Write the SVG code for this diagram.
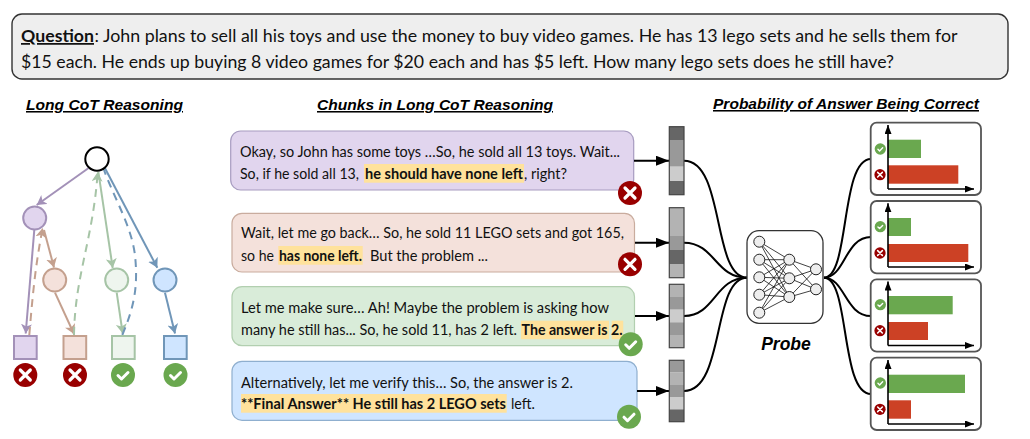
<svg xmlns="http://www.w3.org/2000/svg" width="1030" height="439" viewBox="0 0 1030 439">
<style>
text{font-family:"Lato","Liberation Sans",sans-serif;fill:#111}
.q{font-size:17.5px}
.c{font-size:14.6px}
.b{font-weight:700}
.h{font-family:"Liberation Sans",Arial,sans-serif;font-weight:700;font-style:italic;font-size:15.5px;text-decoration:underline;fill:#000}
.hl{fill:#ffe29c}
.conn{fill:none;stroke:#000;stroke-width:2}
.t{fill:none;stroke-width:2}
.d{stroke-dasharray:8 6}
.panel{fill:#fff;stroke:#555;stroke-width:1.8}
.ax{stroke:#000;stroke-width:1.6;fill:none}
.gb{fill:#6aa84f}
.rb{fill:#cc4125}
.n{fill:#eee;stroke:#222;stroke-width:1}
.nn{stroke:#111;stroke-width:.8;fill:none}
.frame{fill:none;stroke:#444;stroke-width:1.2}
</style>
<defs>
<marker id="ah" markerUnits="userSpaceOnUse" markerWidth="14" markerHeight="12" refX="13" refY="5" orient="auto"><path d="M0 0L13 5L0 10z" fill="#000"/></marker>
<marker id="ax" markerUnits="userSpaceOnUse" markerWidth="10" markerHeight="8" refX="9" refY="3.500" orient="auto"><path d="M0 0L9 3.500L0 7z" fill="#000"/></marker>
<marker id="mp" markerUnits="userSpaceOnUse" markerWidth="11" markerHeight="12" refX="9.500" refY="5.500" orient="auto"><path d="M0 0L9.500 5.500L0 11L2.500 5.500z" fill="#a391b8"/></marker>
<marker id="mr" markerUnits="userSpaceOnUse" markerWidth="11" markerHeight="12" refX="9.500" refY="5.500" orient="auto"><path d="M0 0L9.500 5.500L0 11L2.500 5.500z" fill="#c4a08e"/></marker>
<marker id="mg" markerUnits="userSpaceOnUse" markerWidth="11" markerHeight="12" refX="9.500" refY="5.500" orient="auto"><path d="M0 0L9.500 5.500L0 11L2.500 5.500z" fill="#a6c4a6"/></marker>
<marker id="mb" markerUnits="userSpaceOnUse" markerWidth="11" markerHeight="12" refX="9.500" refY="5.500" orient="auto"><path d="M0 0L9.500 5.500L0 11L2.500 5.500z" fill="#7096b8"/></marker>
<g id="bad"><circle r="12" fill="#990000"/><path d="M-5 -5L5 5M5 -5L-5 5" stroke="#fff" stroke-width="3.200" stroke-linecap="round" fill="none"/></g>
<g id="good"><circle r="12" fill="#6aa84f"/><path d="M-5 0.500L-1.500 4L5 -2.500" stroke="#fff" stroke-width="3" stroke-linecap="round" stroke-linejoin="round" fill="none"/></g>
</defs>
<rect width="1030" height="439" fill="#fff"/>

<g id="question">
<rect x="12" y="14" width="996" height="65" rx="10" fill="#eee" stroke="#333" stroke-width="1.400"/>
<text class="q b" x="21" y="42" textLength="73" lengthAdjust="spacingAndGlyphs" text-decoration="underline">Question</text>
<text class="q" x="94.500" y="42" textLength="863" lengthAdjust="spacingAndGlyphs">: John plans to sell all his toys and use the money to buy video games. He has 13 lego sets and he sells them for</text>
<text class="q" x="21" y="68" textLength="873" lengthAdjust="spacingAndGlyphs">$15 each. He ends up buying 8 video games for $20 each and has $5 left. How many lego sets does he still have?</text>
</g>

<g id="headers">
<text class="h" x="26" y="110" textLength="157" lengthAdjust="spacingAndGlyphs">Long CoT Reasoning</text>
<text class="h" x="317" y="110" textLength="236" lengthAdjust="spacingAndGlyphs">Chunks in Long CoT Reasoning</text>
<text class="h" x="713" y="109" textLength="266" lengthAdjust="spacingAndGlyphs">Probability of Answer Being Correct</text>
</g>

<g id="tree-connectors">
<path class="t" stroke="#a391b8" marker-end="url(#mp)" d="M88.300 168.300L36.700 205"/>
<path class="t" stroke="#a391b8" marker-end="url(#mp)" d="M34.300 230L25.700 333.500"/>
<path class="t" stroke="#c4a08e" marker-end="url(#mr)" d="M44 230L54 267.500"/>
<path class="t d" stroke="#c4a08e" marker-end="url(#mr)" d="M29.300 335C33 290 36 262 42.700 228"/>
<path class="t" stroke="#c4a08e" marker-end="url(#mr)" d="M55 292.700L74 334"/>
<path class="t" stroke="#a6c4a6" marker-end="url(#mg)" d="M98.300 171.700L112.700 268"/>
<path class="t d" stroke="#a6c4a6" marker-end="url(#mg)" d="M74 335C75 275 93 240 97.700 172"/>
<path class="t" stroke="#a6c4a6" marker-end="url(#mg)" d="M116.700 292.700L122.700 333.500"/>
<path class="t" stroke="#7096b8" marker-end="url(#mb)" d="M105 168.300L157.300 267.700"/>
<path class="t d" stroke="#7096b8" d="M122.300 335C135 305 138 285 135 255C131 225 115 200 104 170"/>
<path class="t" stroke="#7096b8" marker-end="url(#mb)" d="M165 292.700L175 333.500"/>
</g>
<g id="tree-root"><circle cx="97" cy="159" r="11.700" fill="#fff" stroke="#000" stroke-width="2"/></g>
<g id="tree-purple"><circle cx="34.700" cy="218" r="11.500" fill="#e1d5ee" stroke="#a391b8" stroke-width="2"/><rect x="14" y="336" width="22.700" height="23" fill="#e1d5ee" stroke="#a391b8" stroke-width="2"/><use href="#bad" transform="translate(25.300 375)"/></g>
<g id="tree-peach"><circle cx="54.700" cy="280" r="11.500" fill="#f4e1db" stroke="#c4a08e" stroke-width="2"/><rect x="63.500" y="336" width="22.700" height="23" fill="#f4e1db" stroke="#c4a08e" stroke-width="2"/><use href="#bad" transform="translate(75 375)"/></g>
<g id="tree-green"><circle cx="116.700" cy="280" r="11.500" fill="#eef5ee" stroke="#a6c4a6" stroke-width="2"/><rect x="112" y="336" width="22.700" height="23" fill="#eef5ee" stroke="#a6c4a6" stroke-width="2"/><use href="#good" transform="translate(123 375)"/></g>
<g id="tree-blue"><circle cx="165" cy="280" r="11.500" fill="#cfe5ff" stroke="#7096b8" stroke-width="2"/><rect x="164" y="336" width="22.700" height="23" fill="#cfe5ff" stroke="#7096b8" stroke-width="2"/><use href="#good" transform="translate(175.500 375)"/></g>

<g id="chunk1">
<rect x="230.700" y="131" width="403" height="59" rx="10" fill="#e1d5ee" stroke="#a79cc0" stroke-width="1.200"/>
<rect class="hl" x="364" y="164" width="160" height="18.700"/>
<text class="c" x="240" y="157" textLength="380" lengthAdjust="spacingAndGlyphs">Okay, so John has some toys …So, he sold all 13 toys. Wait...</text>
<text class="c" x="240" y="179" textLength="119" lengthAdjust="spacingAndGlyphs">So, if he sold all 13,</text>
<text class="c b" x="365" y="179" textLength="158" lengthAdjust="spacingAndGlyphs">he should have none left</text>
<text class="c" x="524" y="179" textLength="43" lengthAdjust="spacingAndGlyphs">, right?</text>
<use href="#bad" transform="translate(630 193)"/>
</g>
<g id="chunk2">
<rect x="232" y="213.300" width="402.500" height="58.700" rx="10" fill="#f4e1db" stroke="#c9ac9e" stroke-width="1.200"/>
<rect class="hl" x="278.300" y="246" width="84.400" height="18.700"/>
<text class="c" x="241" y="238" textLength="383" lengthAdjust="spacingAndGlyphs">Wait, let me go back… So, he sold 11 LEGO sets and got 165,</text>
<text class="c" x="241" y="261" textLength="33" lengthAdjust="spacingAndGlyphs">so he</text>
<text class="c b" x="279" y="261" textLength="83" lengthAdjust="spacingAndGlyphs">has none left.</text>
<text class="c" x="370" y="261" textLength="118" lengthAdjust="spacingAndGlyphs">But the problem ...</text>
<use href="#bad" transform="translate(630 264.300)"/>
</g>
<g id="chunk3">
<rect x="232" y="286.700" width="402.500" height="59" rx="10" fill="#d9ecd9" stroke="#b2cfb0" stroke-width="1.200"/>
<rect class="hl" x="521" y="320.700" width="88" height="18.500"/>
<rect class="hl" x="611.700" y="320.700" width="11.500" height="18.500"/>
<text class="c" x="241" y="312.700" textLength="368" lengthAdjust="spacingAndGlyphs">Let me make sure… Ah! Maybe the problem is asking how</text>
<text class="c" x="241" y="335" textLength="276" lengthAdjust="spacingAndGlyphs">many he still has... So, he sold 11, has 2 left.</text>
<text class="c b" x="521.500" y="335" textLength="101" lengthAdjust="spacingAndGlyphs">The answer is 2.</text>
<use href="#good" transform="translate(630.700 344.300)"/>
</g>
<g id="chunk4">
<rect x="232" y="361.300" width="405" height="59" rx="10" fill="#cfe5ff" stroke="#8fafcf" stroke-width="1.200"/>
<rect class="hl" x="241" y="394" width="265.700" height="18.700"/>
<text class="c" x="241" y="387.700" textLength="332" lengthAdjust="spacingAndGlyphs">Alternatively, let me verify this… So, the answer is 2.</text>
<text class="c b" x="241" y="408.700" textLength="265" lengthAdjust="spacingAndGlyphs">**Final Answer** He still has 2 LEGO sets</text>
<text class="c" x="511" y="408.700" textLength="24" lengthAdjust="spacingAndGlyphs">left.</text>
<use href="#good" transform="translate(629 416.700)"/>
</g>

<g id="connectors">
<path class="conn" marker-end="url(#ah)" d="M634 160.700H669"/>
<path class="conn" marker-end="url(#ah)" d="M635 242.700H669"/>
<path class="conn" marker-end="url(#ah)" d="M635 316H669"/>
<path class="conn" marker-end="url(#ah)" d="M637 391H669"/>
<path class="conn" d="M684 160.700C725 160.700 712 277.700 747 277.700"/>
<path class="conn" d="M684 242.700C715 242.700 715 277.700 747 277.700"/>
<path class="conn" d="M684 316C715 316 715 277.700 747 277.700"/>
<path class="conn" d="M684 391C725 391 712 277.700 747 277.700"/>
<path class="conn" d="M824 277.700C850 277.700 840 159 871 159"/>
<path class="conn" d="M824 277.700C845 277.700 845 237 871 237"/>
<path class="conn" d="M824 277.700C845 277.700 845 316 871 316"/>
<path class="conn" d="M824 277.700C850 277.700 840 394 871 394"/>
</g>

<g id="strip1">
<rect x="669.300" y="126.700" width="14.700" height="13.300" fill="#666"/><rect x="669.300" y="140" width="14.700" height="26.700" fill="#999"/><rect x="669.300" y="166.700" width="14.700" height="14.300" fill="#ccc"/><rect x="669.300" y="181" width="14.700" height="13.700" fill="#666"/><rect class="frame" x="669.300" y="126.700" width="14.700" height="68"/>
</g>
<g id="strip2">
<rect x="669.300" y="207.700" width="14.700" height="28.300" fill="#b3b3b3"/><rect x="669.300" y="236" width="14.700" height="14" fill="#999"/><rect x="669.300" y="250" width="14.700" height="14" fill="#666"/><rect x="669.300" y="264" width="14.700" height="13.700" fill="#b3b3b3"/><rect class="frame" x="669.300" y="207.700" width="14.700" height="70"/>
</g>
<g id="strip3">
<rect x="669.300" y="284.300" width="14.700" height="12.700" fill="#b3b3b3"/><rect x="669.300" y="297" width="14.700" height="12.700" fill="#999"/><rect x="669.300" y="309.700" width="14.700" height="12.600" fill="#ccc"/><rect x="669.300" y="322.300" width="14.700" height="12.700" fill="#999"/><rect x="669.300" y="335" width="14.700" height="12.700" fill="#b3b3b3"/><rect class="frame" x="669.300" y="284.300" width="14.700" height="63.400"/>
</g>
<g id="strip4">
<rect x="669.300" y="360.300" width="14.700" height="12.300" fill="#999"/><rect x="669.300" y="372.600" width="14.700" height="12.400" fill="#b3b3b3"/><rect x="669.300" y="385" width="14.700" height="12" fill="#999"/><rect x="669.300" y="397" width="14.700" height="12.400" fill="#ccc"/><rect x="669.300" y="409.400" width="14.700" height="12.300" fill="#666"/><rect class="frame" x="669.300" y="360.300" width="14.700" height="61.400"/>
</g>

<g id="probe">
<rect x="747" y="230.700" width="76" height="92.600" rx="12" fill="#fff" stroke="#333" stroke-width="1.300"/>
<path class="nn" d="M759.300 241.700L789.300 259.700M759.300 241.700L789.300 278.300M759.300 241.700L789.300 297M759.300 259.700L789.300 259.700M759.300 259.700L789.300 278.300M759.300 259.700L789.300 297M759.300 277.300L789.300 259.700M759.300 277.300L789.300 278.300M759.300 277.300L789.300 297M759.300 294.700L789.300 259.700M759.300 294.700L789.300 278.300M759.300 294.700L789.300 297M759.300 312.700L789.300 259.700M759.300 312.700L789.300 278.300M759.300 312.700L789.300 297M789.300 259.700L816 269.300M789.300 259.700L816 289.300M789.300 278.300L816 269.300M789.300 278.300L816 289.300M789.300 297L816 269.300M789.300 297L816 289.300"/>
<circle class="n" cx="759.300" cy="241.700" r="5.500"/><circle class="n" cx="759.300" cy="259.700" r="5.500"/><circle class="n" cx="759.300" cy="277.300" r="5.500"/><circle class="n" cx="759.300" cy="294.700" r="5.500"/><circle class="n" cx="759.300" cy="312.700" r="5.500"/>
<circle class="n" cx="789.300" cy="259.700" r="5.500"/><circle class="n" cx="789.300" cy="278.300" r="5.500"/><circle class="n" cx="789.300" cy="297" r="5.500"/>
<circle class="n" cx="816" cy="269.300" r="5.500"/><circle class="n" cx="816" cy="289.300" r="5.500"/>
<text x="786" y="350" text-anchor="middle" style="font-family:'Liberation Sans',Arial,sans-serif;font-weight:700;font-style:italic;font-size:17.500px;fill:#000">Probe</text>
</g>

<g id="panel1">
<rect class="panel" x="870.700" y="122.700" width="110.300" height="72.300" rx="6"/>
<rect class="gb" x="888" y="139.700" width="33" height="18.300"/><rect class="rb" x="888" y="165.300" width="70.300" height="18.400"/>
<path class="ax" marker-end="url(#ax)" d="M888 189V125"/><path class="ax" marker-end="url(#ax)" d="M888 189H974"/>
<use href="#good" transform="translate(880.300 149) scale(.47)"/><use href="#bad" transform="translate(880 174.700) scale(.47)"/>
</g>
<g id="panel2">
<rect class="panel" x="870.700" y="201" width="110.300" height="72.300" rx="6"/>
<rect class="gb" x="888" y="218" width="23" height="18"/><rect class="rb" x="888" y="244" width="80.300" height="18"/>
<path class="ax" marker-end="url(#ax)" d="M888 267V203.300"/><path class="ax" marker-end="url(#ax)" d="M888 267H974"/>
<use href="#good" transform="translate(880.300 226.700) scale(.47)"/><use href="#bad" transform="translate(880 253) scale(.47)"/>
</g>
<g id="panel3">
<rect class="panel" x="870.700" y="279.300" width="110.300" height="72.400" rx="6"/>
<rect class="gb" x="888" y="296" width="64.700" height="18.300"/><rect class="rb" x="888" y="322" width="40" height="18"/>
<path class="ax" marker-end="url(#ax)" d="M888 345.500V281.500"/><path class="ax" marker-end="url(#ax)" d="M888 345.500H974"/>
<use href="#good" transform="translate(880.300 304.700) scale(.47)"/><use href="#bad" transform="translate(880 330.700) scale(.47)"/>
</g>
<g id="panel4">
<rect class="panel" x="870.700" y="357.700" width="110.300" height="72.300" rx="6"/>
<rect class="gb" x="888" y="374.700" width="77" height="18.300"/><rect class="rb" x="888" y="400.300" width="23" height="18.400"/>
<path class="ax" marker-end="url(#ax)" d="M888 424V360"/><path class="ax" marker-end="url(#ax)" d="M888 424H974"/>
<use href="#good" transform="translate(880.300 383) scale(.47)"/><use href="#bad" transform="translate(880 409.300) scale(.47)"/>
</g>
</svg>
